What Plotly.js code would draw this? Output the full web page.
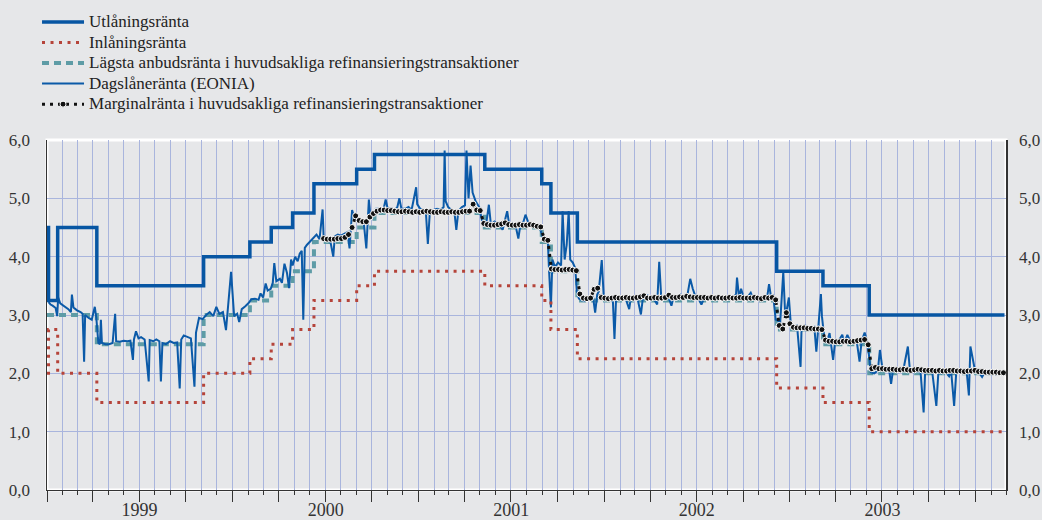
<!DOCTYPE html>
<html>
<head>
<meta charset="utf-8">
<script src="https://cdn.plot.ly/plotly-3.0.1.min.js"></script>
<style>html,body{margin:0;padding:0;background:#e6e7e9;}</style>
</head>
<body>
<div id="chart" style="width:1042px;height:520px;"></div>
<script>
// ---- Policy rate change dates (ECB) and the rates in force from each date ----
const policyDates = ['1999-01-01','1999-01-04','1999-01-22','1999-04-09','1999-11-05','2000-02-04','2000-03-17','2000-04-28','2000-06-09','2000-09-01','2000-10-06','2001-05-11','2001-08-31','2001-09-18','2001-11-09','2002-12-06','2003-03-07','2003-06-06','2004-02-27'];
const lendingRates = [4.50,3.25,4.50,3.50,4.00,4.25,4.50,4.75,5.25,5.50,5.75,5.50,5.25,4.75,4.25,3.75,3.50,3.00,3.00];
const depositRates = [2.00,2.75,2.00,1.50,2.00,2.25,2.50,2.75,3.25,3.50,3.75,3.50,3.25,2.75,2.25,1.75,1.50,1.00,1.00];
const minBidRates  = [3.00,3.00,3.00,2.50,3.00,3.25,3.50,3.75,4.25,4.50,4.75,4.50,4.25,3.75,3.25,2.75,2.50,2.00,2.00];

// ---- EONIA ----
const eoniaDates = [
'1999-01-04','1999-01-08','1999-01-12','1999-01-18','1999-01-21','1999-01-23','1999-01-27','1999-02-02','1999-02-08','1999-02-12','1999-02-17','1999-02-19','1999-02-22','1999-03-01','1999-03-08','1999-03-12','1999-03-15','1999-03-17','1999-03-24','1999-03-30','1999-04-05','1999-04-08','1999-04-12','1999-04-15','1999-04-17','1999-04-19','1999-04-26','1999-05-03','1999-05-10','1999-05-15','1999-05-17','1999-05-24','1999-06-01','1999-06-08','1999-06-14','1999-06-19','1999-06-21','1999-06-25','1999-06-30','1999-07-05','1999-07-12','1999-07-20','1999-07-22','1999-07-29','1999-08-04','1999-08-10','1999-08-13','1999-08-16','1999-08-23','1999-08-31','1999-09-07','1999-09-14','1999-09-19','1999-09-22','1999-09-27','1999-10-04','1999-10-11','1999-10-18','1999-10-21','1999-10-27','1999-11-03','1999-11-10','1999-11-17','1999-11-24','1999-11-30','1999-12-06','1999-12-13','1999-12-19','1999-12-22','1999-12-29',
'2000-01-04','2000-01-10','2000-01-14','2000-01-19','2000-01-26','2000-02-01','2000-02-07','2000-02-14','2000-02-21','2000-02-25','2000-03-01','2000-03-06','2000-03-10','2000-03-16','2000-03-20','2000-03-23','2000-03-27','2000-04-03','2000-04-07','2000-04-12','2000-04-17','2000-04-21','2000-04-25','2000-04-28','2000-05-03','2000-05-08','2000-05-12','2000-05-16','2000-05-19','2000-05-22','2000-05-26','2000-05-31','2000-06-05','2000-06-09','2000-06-14','2000-06-20','2000-06-26','2000-06-28','2000-07-03','2000-07-10','2000-07-17','2000-07-20','2000-07-26','2000-08-01','2000-08-08','2000-08-14','2000-08-18','2000-08-23','2000-08-28','2000-09-04','2000-09-11','2000-09-15','2000-09-20','2000-09-25','2000-09-28','2000-10-03','2000-10-09','2000-10-16','2000-10-23','2000-10-28','2000-11-01','2000-11-08','2000-11-15','2000-11-20','2000-11-24','2000-11-28','2000-12-05','2000-12-12','2000-12-18','2000-12-27','2000-12-29',
'2001-01-04','2001-01-10','2001-01-15','2001-01-19','2001-01-23','2001-01-30','2001-02-06','2001-02-13','2001-02-19','2001-02-21','2001-02-23','2001-02-28','2001-03-06','2001-03-12','2001-03-16','2001-03-20','2001-03-27','2001-04-02','2001-04-05','2001-04-09','2001-04-13','2001-04-17','2001-04-23','2001-04-30','2001-05-07','2001-05-14','2001-05-19','2001-05-23','2001-05-30','2001-06-05','2001-06-11','2001-06-15','2001-06-24','2001-06-28','2001-07-04','2001-07-10','2001-07-16','2001-07-20','2001-07-26','2001-07-30','2001-08-06','2001-08-13','2001-08-20','2001-08-27','2001-09-03','2001-09-07','2001-09-12','2001-09-14','2001-09-18','2001-09-21','2001-09-26','2001-10-02','2001-10-08','2001-10-11','2001-10-15','2001-10-19','2001-10-23','2001-10-26','2001-10-31','2001-11-05','2001-11-08','2001-11-12','2001-11-19','2001-11-26','2001-12-03','2001-12-10','2001-12-14','2001-12-18','2001-12-21','2001-12-27','2001-12-31',
'2002-01-07','2002-01-14','2002-01-18','2002-01-21','2002-01-24','2002-01-31','2002-02-06','2002-02-12','2002-02-19','2002-02-22','2002-02-28','2002-03-07','2002-03-14','2002-03-18','2002-03-26','2002-04-02','2002-04-08','2002-04-15','2002-04-19','2002-04-23','2002-04-30','2002-05-07','2002-05-13','2002-05-17','2002-05-24','2002-05-31','2002-06-06','2002-06-13','2002-06-19','2002-06-24','2002-06-28','2002-07-04','2002-07-11','2002-07-16','2002-07-23','2002-07-30','2002-08-06','2002-08-13','2002-08-20','2002-08-27','2002-09-03','2002-09-10','2002-09-17','2002-09-19','2002-09-23','2002-09-27','2002-10-02','2002-10-09','2002-10-16','2002-10-21','2002-10-28','2002-11-04','2002-11-11','2002-11-18','2002-11-21','2002-11-25','2002-11-29','2002-12-04','2002-12-09','2002-12-13','2002-12-19','2002-12-23','2002-12-30',
'2003-01-03','2003-01-09','2003-01-15','2003-01-22','2003-01-24','2003-01-31','2003-02-06','2003-02-13','2003-02-18','2003-02-22','2003-02-26','2003-03-03','2003-03-05','2003-03-10','2003-03-17','2003-03-20','2003-03-27','2003-03-31','2003-04-07','2003-04-14','2003-04-18','2003-04-24','2003-04-30','2003-05-07','2003-05-13','2003-05-18','2003-05-22','2003-05-28','2003-06-03','2003-06-09','2003-06-16','2003-06-23','2003-06-27','2003-07-02','2003-07-09','2003-07-15','2003-07-19','2003-07-23','2003-07-30','2003-08-06','2003-08-13','2003-08-21','2003-08-25','2003-09-01','2003-09-08','2003-09-15','2003-09-21','2003-09-24','2003-10-01','2003-10-08','2003-10-16','2003-10-20','2003-10-27','2003-11-03','2003-11-10','2003-11-14','2003-11-20','2003-11-24','2003-12-01','2003-12-08','2003-12-15','2003-12-19','2003-12-22','2003-12-26','2003-12-31',
'2004-01-07','2004-01-14','2004-01-20','2004-01-27','2004-02-03','2004-02-10','2004-02-17','2004-02-25'];
const eoniaRates = [
3.22,3.18,3.16,3.12,2.98,3.30,3.20,3.16,3.12,3.10,3.05,3.35,3.13,3.08,3.05,3.02,2.20,3.00,2.95,2.92,3.14,2.95,2.52,2.50,2.92,2.52,2.50,2.50,2.52,3.02,2.55,2.54,2.56,2.55,2.56,2.23,2.58,2.72,2.60,2.62,2.58,1.86,2.57,2.55,2.58,2.55,1.86,2.52,2.50,2.55,2.52,2.53,1.74,2.58,2.65,2.62,2.60,1.77,2.70,2.95,2.93,3.00,3.05,2.98,3.14,3.02,3.05,2.74,3.05,3.74,
2.98,3.02,2.88,3.10,3.15,3.20,3.27,3.28,3.26,3.37,3.30,3.54,3.42,3.45,3.55,3.89,3.58,3.62,3.55,3.88,3.72,3.46,3.95,3.85,4.00,3.92,4.05,4.10,2.92,4.15,4.20,4.25,4.30,4.33,4.38,4.30,4.81,4.35,4.33,4.32,4.00,4.35,4.38,4.36,4.40,4.42,4.14,4.80,4.65,4.60,4.62,4.58,4.14,4.98,4.70,4.75,4.82,4.82,4.78,4.98,4.82,4.83,4.80,4.85,5.00,4.82,4.82,4.85,4.80,5.19,4.90,
4.82,4.80,4.78,4.22,4.78,4.80,4.82,4.80,4.85,5.82,4.95,4.85,4.80,4.78,4.46,4.78,4.85,4.88,5.82,5.00,5.56,5.10,4.95,4.85,4.55,4.58,4.89,4.55,4.60,4.55,4.52,4.46,4.78,4.55,4.58,4.55,4.31,4.55,4.60,4.72,4.55,4.52,4.55,4.50,4.30,4.28,4.25,3.84,3.13,3.95,3.82,3.90,3.85,4.78,3.95,4.20,4.78,3.95,3.90,3.80,3.40,3.28,3.25,3.24,3.26,3.30,3.04,3.35,3.40,3.94,3.30,
3.30,3.28,3.22,2.59,3.25,3.30,3.30,3.28,3.10,3.28,3.32,3.30,3.01,3.30,3.34,3.30,3.28,3.18,3.91,3.30,3.30,3.32,3.16,3.30,3.30,3.35,3.30,3.32,3.62,3.45,3.35,3.30,3.18,3.28,3.30,3.30,3.30,3.29,3.30,3.30,3.29,3.30,3.35,3.64,3.30,3.45,3.30,3.30,3.38,3.28,3.30,3.30,3.28,3.35,3.53,3.30,3.35,2.92,2.90,2.88,3.74,2.95,3.30,
2.82,2.80,2.82,2.11,2.80,2.82,2.80,2.78,2.80,2.37,2.80,3.36,2.98,2.58,2.60,2.69,2.23,2.55,2.56,2.66,2.52,2.66,2.55,2.55,2.52,2.20,2.55,2.70,2.52,2.02,2.00,2.05,2.40,2.08,2.05,2.07,1.82,2.07,2.08,2.07,2.10,2.46,2.05,2.02,2.03,2.02,1.33,2.03,2.05,2.02,1.44,2.02,2.00,2.02,1.95,2.05,1.44,2.00,2.02,2.05,2.00,1.62,2.46,2.28,2.05,
2.02,1.94,2.03,2.05,2.02,1.98,2.03,2.00];

// ---- Marginal rate in main refinancing operations: weekly tenders from 28 June 2000 ----
const marginalStart = '2000-06-28';
const marginalRates = [
4.31,4.30,4.30,4.30,4.31,4.31,4.33,4.38,4.50,4.70,4.62,4.60,4.60,4.68,4.74,4.78,4.80,
4.80,4.79,4.79,4.78,4.77,4.77,4.78,4.77,4.76,4.77,4.76,4.77,4.78,4.77,4.76,4.76,4.77,4.76,4.76,4.77,4.76,4.76,4.77,4.78,
4.78,4.90,4.80,4.79,4.57,
4.55,4.54,4.54,4.55,4.56,4.58,4.55,4.54,4.54,4.55,4.54,4.54,4.55,4.54,4.52,4.51,4.30,4.28,3.79,
3.78,3.78,3.77,3.78,3.78,3.77,3.76,3.36,3.29,3.28,3.29,3.44,3.46,3.30,
3.29,3.28,3.29,3.30,3.29,3.29,3.30,3.29,3.29,3.30,3.31,3.33,3.29,3.29,3.30,3.29,3.29,3.30,3.34,3.30,3.30,3.31,3.30,3.32,3.31,3.30,3.30,3.30,3.30,3.29,3.30,3.29,3.30,3.29,3.29,3.30,3.29,3.29,3.30,3.29,3.29,3.29,3.30,3.29,3.28,3.30,3.29,3.30,3.26,
2.82,2.76,3.04,2.85,2.79,2.78,2.78,2.78,2.77,2.77,2.76,2.76,2.75,
2.57,2.55,2.55,2.54,2.54,2.55,2.55,2.54,2.55,2.56,2.57,2.58,2.49,
2.08,2.10,2.08,2.08,2.07,2.07,2.07,2.06,2.06,2.07,2.06,2.05,2.06,2.07,2.06,2.05,2.05,2.05,2.04,2.05,2.04,2.04,2.05,2.05,2.04,2.04,2.03,2.04,2.04,2.05,2.03,2.03,2.02,2.02,2.02,2.02,2.01,2.01];

// ---- Labels ----
const seriesNames = [
  'Utlåningsränta',
  'Inlåningsränta',
  'Lägsta anbudsränta i huvudsakliga refinansieringstransaktioner',
  'Dagslåneränta (EONIA)',
  'Marginalränta i huvudsakliga refinansieringstransaktioner'
];
const yearLabels = ['1999','2000','2001','2002','2003'];
const xRange = ['1999-01-01','2004-03-01'];
const yRange = [0, 6];

const WEEK_MS = 7*24*3600*1000;
const nm = s => '<span style="font-size:17px">' + s + '</span>';
const FONT = 'Liberation Serif, Times New Roman, serif';
const GRID = '#a9b5dd';
const AXC = '#333333';

const traces = [
  {x: policyDates, y: minBidRates, name: nm(seriesNames[2]), legendrank: 3, mode: 'lines',
   line: {shape: 'hv', color: '#5e9ca6', width: 4, dash: '7px,5px'}},
  {x: eoniaDates, y: eoniaRates, name: nm(seriesNames[3]), legendrank: 4, mode: 'lines',
   line: {color: '#0b5aa8', width: 2}},
  {x: policyDates, y: depositRates, name: nm(seriesNames[1]), legendrank: 2, mode: 'lines',
   line: {shape: 'hv', color: '#b5443a', width: 3, dash: '3px,5.5px'}},
  {x0: marginalStart, dx: WEEK_MS, y: marginalRates, name: nm(seriesNames[4]), legendrank: 5, mode: 'lines+markers',
   line: {color: '#111111', width: 3, dash: '3px,5px'},
   marker: {color: '#111111', size: 6, line: {color: '#ffffff', width: 1}}},
  // lending rate drawn on the overlay axes (same ranges) so the year labels and right axis are rendered
  {x: policyDates, y: lendingRates, xaxis: 'x2', yaxis: 'y2', name: nm(seriesNames[0]), legendrank: 1, mode: 'lines',
   line: {shape: 'hv', color: '#0756a3', width: 3.5}}
];

const layout = {
  width: 1042, height: 520, autosize: false,
  paper_bgcolor: '#e6e7e9', plot_bgcolor: '#e6e7e9',
  margin: {l: 47, r: 36, t: 140, b: 30, pad: 0, autoexpand: false},
  separators: ',.',
  font: {family: FONT, size: 17, color: AXC},
  showlegend: true,
  legend: {x: -0.0104, xanchor: 'left', y: 1.381, yanchor: 'top', bgcolor: 'rgba(0,0,0,0)',
           borderwidth: 0, itemwidth: 42, traceorder: 'normal',
           font: {family: FONT, size: 13.5, color: '#222222'}},
  xaxis: {type: 'date', range: xRange, showgrid: true, gridcolor: GRID, gridwidth: 1,
          dtick: 'M3', tick0: '1999-01-01', ticks: 'outside', ticklen: 11, tickwidth: 1, tickcolor: AXC,
          showticklabels: false, showline: true, linecolor: AXC, linewidth: 1, zeroline: false,
          minor: {dtick: 'M1', tick0: '1999-01-01', showgrid: true, gridcolor: GRID, gridwidth: 1,
                  ticks: 'outside', ticklen: 4, tickcolor: AXC, tickwidth: 1},
          fixedrange: true},
  xaxis2: {type: 'date', overlaying: 'x', anchor: 'y', side: 'bottom', range: xRange,
           tickvals: yearLabels.map(y => y + '-07-02'), ticktext: yearLabels,
           ticks: '', showgrid: false, showline: false, zeroline: false,
           ticklabelstandoff: 7, tickfont: {family: FONT, size: 18, color: AXC}, fixedrange: true},
  yaxis: {range: yRange, dtick: 1, tick0: 0, tickformat: '.1f', showgrid: true, gridcolor: GRID, gridwidth: 1,
          zeroline: false, showline: true, linecolor: AXC, linewidth: 1.5, ticks: '',
          ticklabelstandoff: 12, tickfont: {family: FONT, size: 17, color: AXC}, fixedrange: true},
  yaxis2: {range: yRange, dtick: 1, tick0: 0, tickformat: '.1f', overlaying: 'y', side: 'right', anchor: 'x',
           showgrid: false, zeroline: false, showline: true, linecolor: AXC, linewidth: 1.5, ticks: '',
           ticklabelstandoff: 8, tickfont: {family: FONT, size: 17, color: AXC}, fixedrange: true},
  shapes: [{type: 'rect', xref: 'paper', yref: 'paper', x0: 0, x1: 1, y0: 0, y1: 1,
            line: {color: '#ffffff', width: 3}, layer: 'below'}]
};

Plotly.newPlot('chart', traces, layout, {displayModeBar: false, staticPlot: true});
</script>
</body>
</html>
